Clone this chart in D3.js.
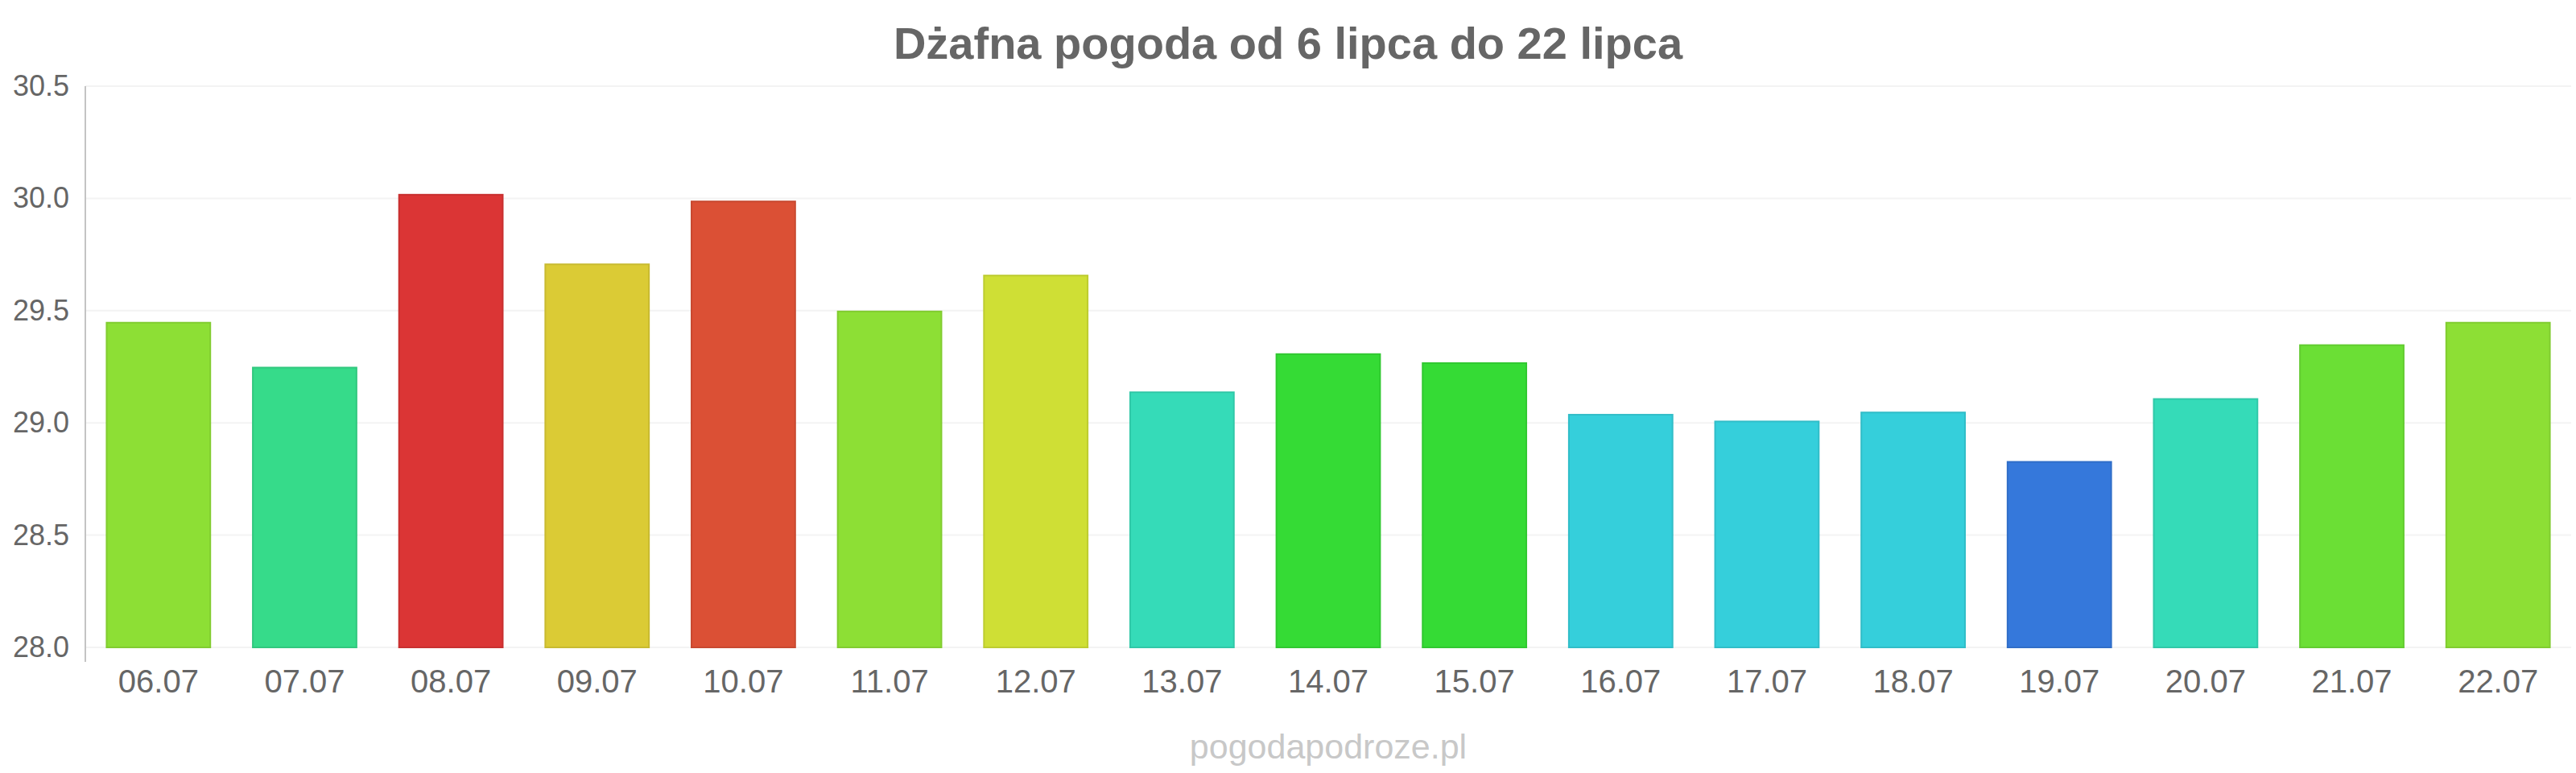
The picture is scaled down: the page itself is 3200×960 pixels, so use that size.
<!DOCTYPE html>
<html>
  <head>
    <meta charset="utf-8">
    <script src="https://d3js.org/d3.v7.min.js"></script>
    <title>Dżafna pogoda</title>
    <style>
      body {
        margin: 0px;
        background: #fff;
      }
      text {
        font-family: "Liberation Sans", Arial, sans-serif;
      }
      .tick text {
        fill: #666;
      }
    </style>
  </head>
  <body>
    <svg width="3200" height="960"></svg>
    <script>

      const days = ['06.07', '07.07', '08.07', '09.07', '10.07', '11.07', '12.07', '13.07', '14.07',
        '15.07', '16.07', '17.07', '18.07', '19.07', '20.07', '21.07', '22.07'];
      const temps = [29.45, 29.25, 30.02, 29.71, 29.99, 29.5, 29.66, 29.14, 29.31,
        29.27, 29.04, 29.01, 29.05, 28.83, 29.11, 29.35, 29.45];
      const barColors = ['#8ddf35', '#36db8a', '#db3535', '#dbcb35', '#db5035', '#8ddf35', '#cfdf35',
        '#35dbb8', '#35db35', '#35db35', '#35cfdb', '#35cfdb', '#35cfdb', '#3578db', '#35dbb8',
        '#6bdf35', '#8ddf35'];
      const yTicks = [28.0, 28.5, 29.0, 29.5, 30.0, 30.5];
      const title = 'Dżafna pogoda od 6 lipca do 22 lipca';
      const credit = 'pogodapodroze.pl';

      const svg = d3.select('svg');
      const width = +svg.attr('width');
      const margin = { left: 106, right: 6, top: 107, bottom: 156 };
      const innerWidth = width - margin.left - margin.right;
      const innerHeight = 960 - margin.top - margin.bottom;

      const xScale = d3.scaleBand()
        .domain(days)
        .range([0, innerWidth])
        .paddingInner(0.28)
        .paddingOuter(0.14);

      const yScale = d3.scaleLinear()
        .domain([28, 30.5])
        .range([innerHeight, 0]);

      const g = svg.append('g')
          .attr('transform', `translate(${margin.left},${margin.top})`);

      // grid
      g.append('g').selectAll('line').data(yTicks)
        .enter().append('line')
          .attr('x1', 0)
          .attr('x2', innerWidth)
          .attr('y1', d => yScale(d))
          .attr('y2', d => yScale(d))
          .attr('stroke', '#f3f3f3')
          .attr('stroke-width', 2);

      // bars
      g.append('g').selectAll('rect').data(temps)
        .enter().append('rect')
          .attr('x', (d, i) => xScale(days[i]) + 1)
          .attr('y', d => yScale(d) + 1)
          .attr('width', xScale.bandwidth() - 2)
          .attr('height', d => yScale(28) - yScale(d) - 1)
          .attr('fill', (d, i) => barColors[i])
          .attr('stroke', (d, i) => d3.color(barColors[i]).darker(0.25))
          .attr('stroke-width', 2);

      // y axis
      const yAxis = d3.axisLeft(yScale)
        .tickValues(yTicks)
        .tickFormat(d3.format('.1f'))
        .tickSize(0)
        .tickPadding(20);
      const yAxisG = g.append('g')
          .call(yAxis)
          .attr('font-size', 36);
      yAxisG.select('.domain').remove();
      g.append('line')
        .attr('x1', 0).attr('x2', 0)
        .attr('y1', 0).attr('y2', innerHeight + 18)
        .attr('stroke', '#c4c4c4')
        .attr('stroke-width', 2);

      // x axis
      const xAxis = d3.axisBottom(xScale)
        .tickSize(0)
        .tickPadding(28);
      const xAxisG = g.append('g')
          .attr('transform', `translate(0,${innerHeight})`)
          .call(xAxis)
          .attr('font-size', 40);
      xAxisG.select('.domain').remove();

      svg.append('text')
        .attr('x', width / 2)
        .attr('y', 73)
        .attr('text-anchor', 'middle')
        .attr('font-size', 56)
        .attr('font-weight', 'bold')
        .attr('fill', '#666')
        .text(title);

      svg.append('text')
        .attr('x', margin.left + innerWidth / 2)
        .attr('y', 942)
        .attr('text-anchor', 'middle')
        .attr('font-size', 43)
        .attr('fill', '#c8c8c8')
        .text(credit);
    </script>
  </body>
</html>
